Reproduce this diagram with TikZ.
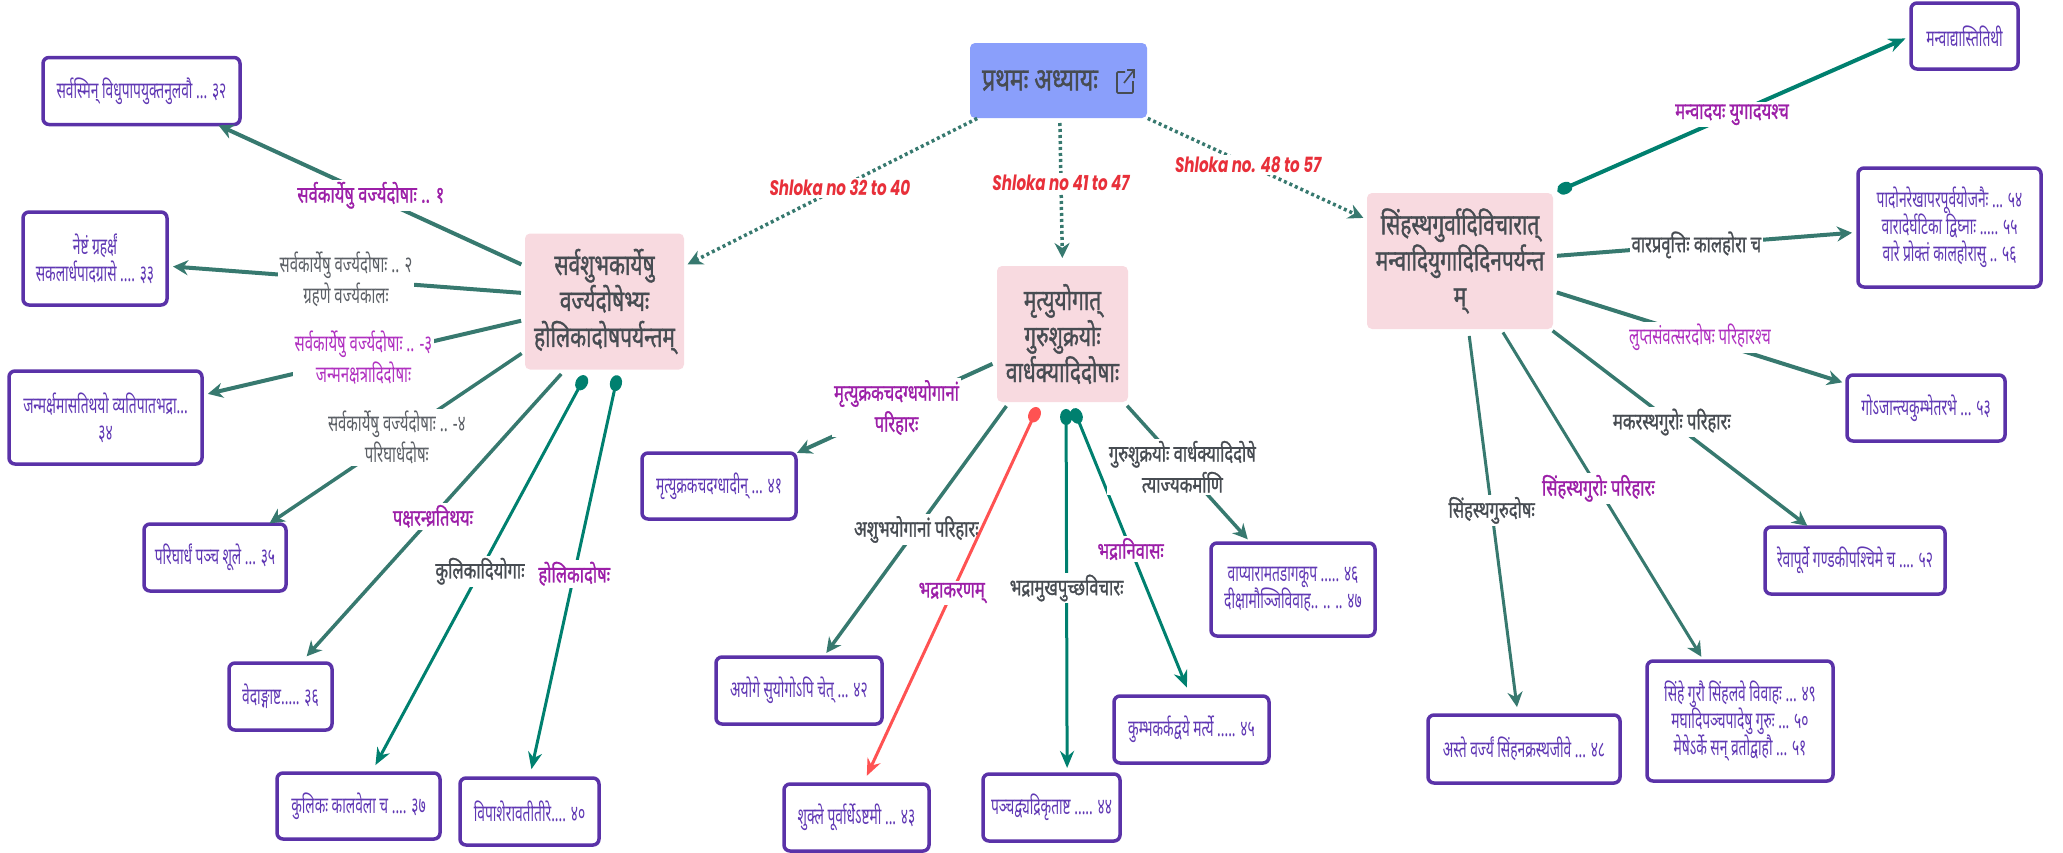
\documentclass[tikz,border=0pt]{standalone}
\usepackage{fontspec}
\setmainfont{Noto Sans}[Script=Devanagari,FakeStretch=0.72]
\newfontfamily\heavyfont{Noto Sans}[Script=Devanagari,FakeStretch=0.72,FakeBold=1.1]
\newfontfamily\narrowfont{Noto Sans}[Script=Devanagari,FakeStretch=0.65]
\newfontfamily\leaffont{Noto Sans}[Script=Devanagari,FakeStretch=0.6]
\newfontfamily\shlokafont{Poppins}[FakeStretch=0.72]
\usetikzlibrary{arrows.meta}
\definecolor{rootfill}{HTML}{8A9FFB}
\definecolor{hubfill}{HTML}{F8DAE0}
\definecolor{leafline}{HTML}{5A32A8}
\definecolor{leaftext}{HTML}{6038B4}
\definecolor{stemcol}{HTML}{37796F}
\definecolor{dotcol}{HTML}{00806F}
\definecolor{coralcol}{HTML}{FF5252}
\definecolor{darktext}{HTML}{474C52}
\definecolor{graytext}{HTML}{5C6066}
\definecolor{purpletext}{HTML}{9C1FA8}
\definecolor{mauvetext}{HTML}{B030C0}
\definecolor{redtext}{HTML}{E8303A}
\begin{document}
\begin{tikzpicture}[x=1pt, y=-1pt,
    rootbox/.style={rectangle, rounded corners=5pt, fill=rootfill, text=darktext, font=\fontsize{32}{38}\heavyfont, minimum width=177pt, minimum height=75pt, inner sep=0pt, outer sep=0pt},
    hubbox/.style={rectangle, rounded corners=5pt, fill=hubfill, text=darktext, align=center, font=\fontsize{29}{36}\heavyfont, minimum height=136pt, inner sep=0pt, outer sep=0pt},
    leafbox/.style={rectangle, rounded corners=6pt, draw=leafline, line width=3.5pt, fill=white, text=leaftext, align=center, font=\fontsize{23}{27}\leaffont, inner sep=0pt, outer sep=0pt},
    stem/.style={draw=stemcol, line width=4pt, -{Stealth[length=15pt, width=15pt]}},
    dotted stem/.style={draw=stemcol, line width=3.5pt, dash pattern=on 3pt off 3pt, -{Stealth[length=15pt, width=15pt]}},
    dot stem/.style={draw=dotcol, line width=3pt, {Circle[length=16pt, width=12pt]}-{Stealth[length=17pt, width=14pt]}},
    coral stem/.style={draw=coralcol, line width=3pt, {Circle[length=16pt, width=12pt]}-{Stealth[length=17pt, width=14pt]}},
    lbl/.style={fill=white, align=center, inner sep=2pt, font=\fontsize{23}{31}\heavyfont},
    lblpurple/.style={lbl, text=purpletext},
    lblmauve/.style={lbl, text=mauvetext, font=\fontsize{23}{31}\narrowfont},
    lblgray/.style={lbl, text=graytext, font=\fontsize{23}{31}\narrowfont},
    lbldark/.style={lbl, text=darktext},
    lblred/.style={fill=white, inner sep=2pt, text=redtext, font=\fontsize{21}{25}\shlokafont\bfseries\itshape}]
    \useasboundingbox (0,0) rectangle (2063,852);

    % Root node
    \node[rootbox] (root) at (1058.5,80.5) {प्रथमः अध्यायः\kern37pt};
    \draw[darktext, line width=1.6pt, rounded corners=1pt] (1125,72) -- (1117,72) -- (1117,93) -- (1133,93) -- (1133,81);
    \draw[darktext, line width=1.6pt] (1124,83) -- (1134,70) (1127,70) -- (1134,70) -- (1134,78);

    % Hub nodes
    \node[hubbox, minimum width=159pt] (hubL) at (604.5,301.5) {सर्वशुभकार्येषु\\वर्ज्यदोषेभ्यः\\होलिकादोषपर्यन्तम्};
    \node[hubbox, minimum width=131pt] (hubM) at (1062.5,334) {मृत्युयोगात्\\गुरुशुक्रयोः\\वार्धक्यादिदोषाः};
    \node[hubbox, minimum width=186pt] (hubR) at (1460,261) {सिंहस्थगुर्वादिविचारात्\\मन्वादियुगादिदिनपर्यन्त\\म्};

    % Left group leaves (32 to 40)
    \node[leafbox, minimum width=197pt, minimum height=67pt] (leafA) at (141.5,91) {सर्वस्मिन् विधुपापयुक्तनुलवौ ... ३२};
    \node[leafbox, minimum width=144pt, minimum height=93pt] (leafB) at (95,258.5) {नेष्टं ग्रहर्क्षं\\सकलार्धपादग्रासे .... ३३};
    \node[leafbox, minimum width=193pt, minimum height=93pt] (leafC) at (105.5,417.5) {जन्मर्क्षमासतिथयो व्यतिपातभद्रा...\\३४};
    \node[leafbox, minimum width=142pt, minimum height=67pt] (leafD) at (215,557.5) {परिघार्धं पञ्च शूले ... ३५};
    \node[leafbox, minimum width=103pt, minimum height=67pt] (leafE) at (280.5,696.5) {वेदाङ्गाष्ट..... ३६};
    \node[leafbox, minimum width=163pt, minimum height=66pt] (leafF) at (358.5,806) {कुलिकः कालवेला च .... ३७};
    \node[leafbox, minimum width=139pt, minimum height=67pt] (leafG) at (529.5,811.5) {विपाशेरावतीतीरे.... ४०};

    % Middle group leaves (41 to 47)
    \node[leafbox, minimum width=154pt, minimum height=66pt] (leafH) at (719,486) {मृत्युक्रकचदग्धादीन् ... ४१};
    \node[leafbox, minimum width=166pt, minimum height=67pt] (leafI) at (799,690.5) {अयोगे सुयोगोऽपि चेत् ... ४२};
    \node[leafbox, minimum width=145pt, minimum height=67pt] (leafJ) at (856.5,817.5) {शुक्ले पूर्वार्धेऽष्टमी ... ४३};
    \node[leafbox, minimum width=137pt, minimum height=67pt] (leafK) at (1051.5,807.5) {पञ्चद्व्यद्रिकृताष्ट ..... ४४};
    \node[leafbox, minimum width=155pt, minimum height=67pt] (leafM) at (1191.5,729.5) {कुम्भकर्कद्वये मर्त्ये ..... ४५};
    \node[leafbox, minimum width=164pt, minimum height=93pt] (leafN) at (1293,589.5) {वाप्यारामतडागकूप ..... ४६\\दीक्षामौञ्जिविवाह.. .. .. ४७};

    % Right group leaves (48 to 57)
    \node[leafbox, minimum width=107pt, minimum height=66pt] (leafP) at (1964.5,36) {मन्वाद्यास्तितिथी};
    \node[leafbox, minimum width=183pt, minimum height=119pt] (leafQ) at (1949.5,227.5) {पादोनरेखापरपूर्वयोजनैः ... ५४\\वारादेर्घटिका द्विघ्नाः ..... ५५\\वारे प्रोक्तं कालहोरासु .. ५६};
    \node[leafbox, minimum width=158pt, minimum height=66pt] (leafR) at (1926,408) {गोऽजान्त्यकुम्भेतरभे ... ५३};
    \node[leafbox, minimum width=180pt, minimum height=67pt] (leafS) at (1855,560.5) {रेवापूर्वे गण्डकीपश्चिमे च .... ५२};
    \node[leafbox, minimum width=186pt, minimum height=120pt] (leafT) at (1740,721) {सिंहे गुरौ सिंहलवे विवाहः ... ४९\\मघादिपञ्चपादेषु गुरुः ... ५०\\मेषेऽर्के सन् व्रतोद्वाहौ ... ५१};
    \node[leafbox, minimum width=192pt, minimum height=68pt] (leafU) at (1524,749) {अस्ते वर्ज्यं सिंहनक्रस्थजीवे ... ४८};

    % Connect root to hubs
    \draw[dotted stem, shorten <=1pt, shorten >=4pt] (root.205.2) -- node[lblred, pos=.47] (shlokaL) {Shloka no 32 to 40} (hubL.24.7);
    \draw[dotted stem, shorten <=5pt, shorten >=8pt] (root.272) -- node[lblred, pos=.44] (shlokaM) {Shloka no 41 to 47} (hubM.north);
    \draw[dotted stem, shorten <=1pt, shorten >=4pt] (root.337) -- node[lblred, pos=.46] (shlokaR) {Shloka no. 48 to 57} (hubR.156.7);

    % Connect left hub to leaves
    \draw[stem, shorten <=4pt, shorten >=2pt] (hubL.156.5) -- node[lblpurple] (lblA) {सर्वकार्येषु वर्ज्यदोषाः .. १} (leafA.336.8);
    \draw[stem, shorten <=4pt, shorten >=6pt] (hubL.174.6) -- node[lblgray] (lblB) {सर्वकार्येषु वर्ज्यदोषाः .. २\\ग्रहणे वर्ज्यकालः} (leafB.354.8);
    \draw[stem, shorten <=4pt, shorten >=6pt] (hubL.193) -- node[lblmauve] (lblC) {सर्वकार्येषु वर्ज्यदोषाः .. -३\\जन्मनक्षत्रादिदोषाः} (leafC.13.1);
    \draw[stem, line width=3.5pt, shorten <=4pt, shorten >=1pt] (hubL.212.4) -- node[lblgray] (lblD) {सर्वकार्येषु वर्ज्यदोषाः .. -४\\परिघार्धदोषः} (leafD.32.3);
    \draw[stem, line width=3.5pt, shorten <=6pt, shorten >=9pt] (hubL.240.7) -- node[lblpurple] (lblE) {पक्षरन्ध्रतिथयः} (leafE.59.8);
    \draw[dot stem, shorten <=7pt, shorten >=9pt] (hubL.257.2) -- node[lbldark] (lblF) {कुलिकादियोगाः} (leafF.69.3);
    \draw[dot stem, shorten <=6pt, shorten >=9pt] (hubL.282.8) -- node[lblpurple] (lblG) {होलिकादोषः} (leafG.north);

    % Connect middle hub to leaves
    \draw[stem, shorten <=5pt, shorten >=1pt] (hubM.203.1) -- node[lblpurple] (lblH) {मृत्युक्रकचदग्धयोगानां\\परिहारः} (leafH.23.2);
    \draw[stem, line width=3.5pt, shorten <=5pt, shorten >=5pt] (hubM.232.9) -- node[lbldark] (lblI) {अशुभयोगानां परिहारः} (leafI.54.4);
    \draw[coral stem, shorten <=6pt, shorten >=9pt] (hubM.252.5) -- node[lblpurple] (lblJ) {भद्राकरणम्} (leafJ.79);
    \draw[dot stem, shorten <=7pt, shorten >=6pt] (hubM.273.8) -- node[lbldark] (lblK) {भद्रामुखपुच्छविचारः} (leafK.65.2);
    \draw[dot stem, shorten <=7pt, shorten >=9pt] (hubM.277.1) -- node[lblpurple] (lblM) {भद्रानिवासः} (leafM.92.6);
    \draw[stem, line width=3.5pt, shorten <=5pt, shorten >=5pt] (hubM.312.1) -- node[lbldark, pos=.46] (lblN) {गुरुशुक्रयोः वार्धक्यादिदोषे\\त्याज्यकर्माणि} (leafN.132.8);

    % Connect right hub to leaves
    \draw[dot stem, line width=4pt, shorten <=5pt, shorten >=6pt] (hubR.36.2) -- node[lblpurple] (lblP) {मन्वादयः युगादयश्च} (leafP.west);
    \draw[stem, shorten <=4pt, shorten >=6pt] (hubR.3.7) -- node[lbldark, pos=.47] (lblQ) {वारप्रवृत्तिः कालहोरा च} (leafQ.183.4);
    \draw[stem, shorten <=4pt, shorten >=5pt] (hubR.342.7) -- node[lblmauve] (lblR) {लुप्तसंवत्सरदोषः परिहारश्च} (leafR.163.8);
    \draw[stem, line width=3.5pt, shorten <=3pt, shorten >=2pt] (hubR.323.2) -- node[lbldark, pos=.47] (lblS) {मकरस्थगुरोः परिहारः} (leafS.144);
    \draw[stem, line width=3pt, shorten <=4pt, shorten >=5pt] (hubR.301.7) -- node[lblpurple, pos=.48] (lblT) {सिंहस्थगुरोः परिहारः} (leafT.121.7);
    \draw[stem, line width=3pt, shorten <=7pt, shorten >=8pt] (hubR.277.5) -- node[lbldark, pos=.47] (lblU) {सिंहस्थगुरुदोषः} (leafU.100);
\end{tikzpicture}
\end{document}
